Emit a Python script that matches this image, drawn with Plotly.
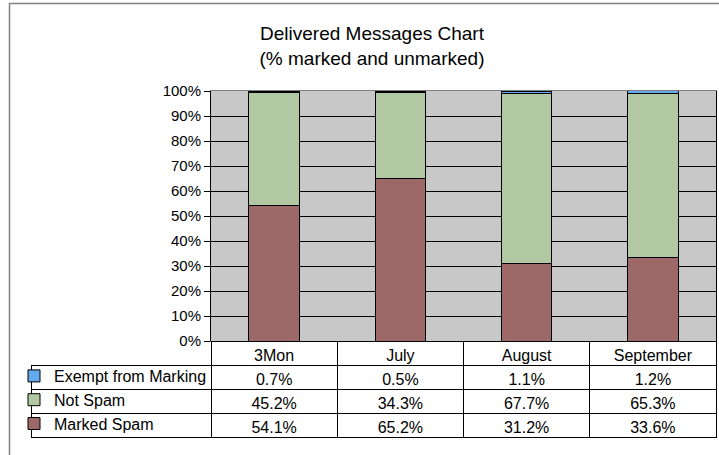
import plotly.graph_objects as go

# --- Data -------------------------------------------------------------------
MONTHS = ["3Mon", "July", "August", "September"]
EXEMPT = [0.7, 0.5, 1.1, 1.2]
NOT_SPAM = [45.2, 34.3, 67.7, 65.3]
MARKED_SPAM = [54.1, 65.2, 31.2, 33.6]
Y_TICKS = [0, 10, 20, 30, 40, 50, 60, 70, 80, 90, 100]
Y_LABELS = [f"{v}%" for v in Y_TICKS]

# stacking order bottom -> top, with legend rank (top row of the table first)
SERIES = [
    ("Marked Spam", MARKED_SPAM, "#9C6868", 3),
    ("Not Spam", NOT_SPAM, "#B2C8A2", 2),
    ("Exempt from Marking", EXEMPT, "#66AAEE", 1),
]

W, H = 719, 455
FONT = "Arial, Liberation Sans, sans-serif"

# plot area in pixels (left, right, top, bottom)
PX_L, PX_R, PX_T, PX_B = 211, 716, 91, 341
TABLE_L = 31
ROW_H = 24


def fmt(v):
    return f"{v:.1f}%"


fig = go.Figure()

for i, (name, vals, color, rank) in enumerate(SERIES):
    fig.add_trace(go.Bar(
        x=MONTHS, y=vals, name=name, legendgroup=f"g{i}", legendrank=rank,
        marker=dict(color=color, line=dict(color="black", width=1)),
        width=0.4,
    ))

# data table under the plot (rows top-to-bottom: Exempt, Not Spam, Marked)
table_rows = [EXEMPT, NOT_SPAM, MARKED_SPAM]
cols = [[""] * 3] + [[fmt(r[j]) for r in table_rows] for j in range(len(MONTHS))]
clear = "rgba(0,0,0,0)"
fig.add_trace(go.Table(
    domain=dict(x=[TABLE_L / W, PX_R / W], y=[0, 1 - PX_B / H]),
    columnwidth=[PX_L - TABLE_L] + [(PX_R - PX_L) / len(MONTHS)] * len(MONTHS),
    header=dict(
        values=[""] + MONTHS, height=ROW_H,
        fill=dict(color=[clear] + ["white"] * len(MONTHS)),
        line=dict(color=[clear] + ["black"] * len(MONTHS), width=1),
        font=dict(family=FONT, size=16, color="black"),
        align="center",
    ),
    cells=dict(
        values=cols, height=ROW_H,
        fill_color="white",
        line=dict(color="black", width=1),
        font=dict(family=FONT, size=16, color="black"),
        align="center",
    ),
))

fig.update_layout(
    width=W, height=H,
    margin=dict(l=0, r=0, t=0, b=0),
    paper_bgcolor="white",
    plot_bgcolor="#C8C8C8",
    barmode="stack",
    font=dict(family=FONT, size=15, color="black"),
    title=dict(
        text="Delivered Messages Chart<br>(% marked and unmarked)",
        x=372 / W, xanchor="center", y=1 - 40 / H, yanchor="middle",
        font=dict(family=FONT, size=19, color="black"),
    ),
    showlegend=True,
    legend=dict(
        x=14 / W, xanchor="left",
        y=1 - 359 / H, yanchor="top",
        traceorder="grouped",
        tracegroupgap=0,
        bgcolor="rgba(0,0,0,0)",
        font=dict(family=FONT, size=16, color="black"),
        itemwidth=30,
    ),
    shapes=[dict(
        type="rect", xref="paper", yref="paper",
        x0=9.5 / W, x1=1.05, y0=-0.05, y1=1 - 3.5 / H,
        line=dict(color="#808080", width=1.5), layer="below",
    )],
)

fig.update_xaxes(
    domain=[PX_L / W, PX_R / W], automargin=False,
    showticklabels=False, ticks="",
    showline=True, linecolor="#808080", linewidth=1, mirror=True,
    showgrid=False,
)
fig.update_yaxes(
    domain=[1 - PX_B / H, 1 - PX_T / H], automargin=False,
    range=[0, 100], tickmode="array", tickvals=Y_TICKS, ticktext=Y_LABELS,
    ticks="outside", ticklen=6, tickcolor="black",
    showline=True, linecolor="black", linewidth=1, mirror=True,
    showgrid=True, gridcolor="black", gridwidth=1, zeroline=False,
    tickfont=dict(family=FONT, size=15, color="black"),
)

# page body margin would push the fixed-size figure past the window
fig.write_html("out.html", config={"displayModeBar": False},
               post_script="document.body.style.margin='0';"
               "document.body.style.overflow='hidden';")
